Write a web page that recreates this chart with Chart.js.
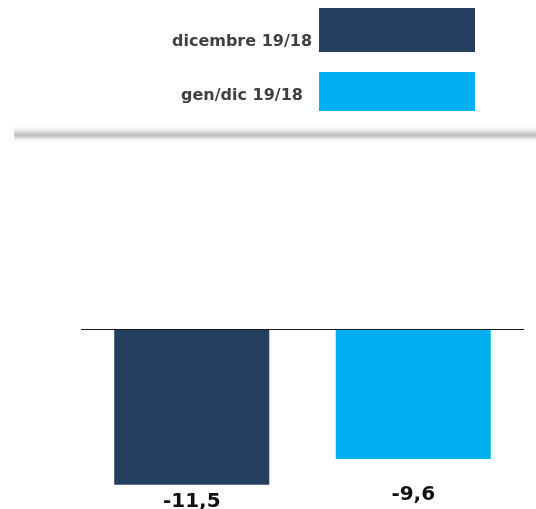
<!DOCTYPE html>
<html>
<head>
<meta charset="utf-8">
<script src="https://cdn.jsdelivr.net/npm/chart.js@4/dist/chart.umd.min.js"></script>
<style>
  body { margin: 0; background: #ffffff; }
  #wrap { position: relative; width: 536px; height: 509px; }
</style>
</head>
<body>
<div id="wrap"><canvas id="graphId" width="536" height="509"></canvas></div>
<script>
//////////////////////////////// Data \\\\\\\\\\\\\\\\\\\\\\\\\\\\\\\\\

var categorie = ['dicembre 19/18', 'gen/dic 19/18'];
var valori = [-11.5, -9.6];
var colori = ['#253f61', '#00b0f0'];

//////////////////////////////// Plugins \\\\\\\\\\\\\\\\\\\\\\\\\\\\\\\\\

// legend on top + grey shadow separator
const legendaPlugin = {
  id: 'legenda',
  beforeDraw(chart) {
    const ctx = chart.ctx;
    ctx.save();
    // separator with soft shadow
    var grad = ctx.createLinearGradient(0, 123, 0, 143);
    grad.addColorStop(0, 'rgba(255,255,255,0)');
    grad.addColorStop(0.3, '#f2f2f2');
    grad.addColorStop(0.5, '#d4d4d4');
    grad.addColorStop(0.6, '#bcbcbc');
    grad.addColorStop(0.72, '#d8d8d8');
    grad.addColorStop(1, 'rgba(255,255,255,0)');
    ctx.fillStyle = grad;
    ctx.fillRect(14, 123, 522, 20);

    var boxes = [[8, 44, 46], [72, 39, 100]];
    ctx.font = 'bold 16px "DejaVu Sans"';
    ctx.textAlign = 'center';
    ctx.textBaseline = 'alphabetic';
    for (var i = 0; i < categorie.length; i++) {
      ctx.fillStyle = colori[i];
      ctx.fillRect(319, boxes[i][0], 156, boxes[i][1]);
      ctx.fillStyle = '#404040';
      ctx.fillText(categorie[i], 242, boxes[i][2]);
    }
    ctx.restore();
  },
  afterDatasetsDraw(chart) {
    const ctx = chart.ctx;
    const area = chart.chartArea;
    const y0 = Math.round(chart.scales.y.getPixelForValue(0)) + 0.5;
    ctx.save();
    // zero line
    ctx.strokeStyle = '#1a1a1a';
    ctx.lineWidth = 1;
    ctx.beginPath();
    ctx.moveTo(area.left, y0);
    ctx.lineTo(area.right, y0);
    ctx.stroke();
    // value labels under the bars
    ctx.font = 'bold 20px "DejaVu Sans"';
    ctx.fillStyle = '#111111';
    ctx.textAlign = 'center';
    ctx.textBaseline = 'top';
    chart.getDatasetMeta(0).data.forEach(function (bar, i) {
      var y = Math.max(bar.y + 7, area.bottom - 20);
      ctx.fillText(valori[i].toFixed(1).replace('.', ','), bar.x, y);
    });
    ctx.restore();
  }
};

//////////////////////////////// Chart \\\\\\\\\\\\\\\\\\\\\\\\\\\\\\\\\

const ctx = document.getElementById('graphId').getContext('2d');
const myChart = new Chart(ctx, {
  type: 'bar',
  data: {
    labels: categorie,
    datasets: [{
      data: valori,
      backgroundColor: colori,
      borderWidth: 0,
      categoryPercentage: 0.7,
      barPercentage: 1
    }]
  },
  options: {
    responsive: false,
    animation: false,
    layout: { padding: { top: 329, left: 81, right: 12, bottom: 4 } },
    plugins: {
      legend: { display: false },
      tooltip: { enabled: false }
    },
    scales: {
      x: { display: false },
      y: { display: false, min: -13, max: 0 }
    }
  },
  plugins: [legendaPlugin]
});
</script>
</body>
</html>
